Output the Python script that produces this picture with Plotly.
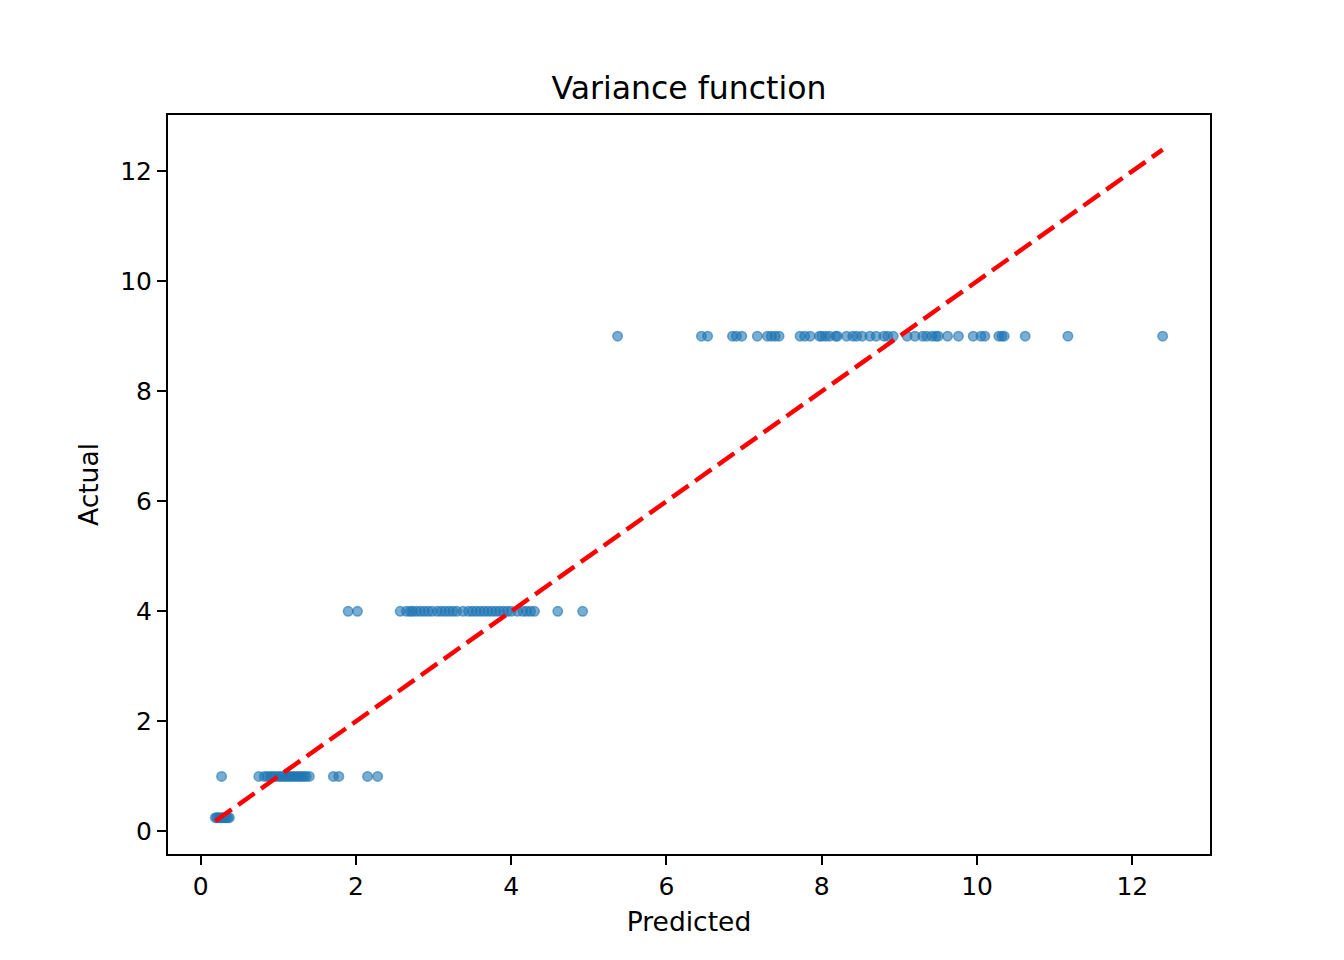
import plotly.graph_objects as go

pred_025 = [0.19, 0.21, 0.23, 0.25, 0.27, 0.29, 0.31, 0.33, 0.35, 0.37]
pred_1 = [0.27, 0.75, 0.82, 0.86, 0.9, 0.93, 0.96, 1.0, 1.03, 1.06, 1.09, 1.12, 1.15,
          1.18, 1.21, 1.24, 1.27, 1.3, 1.33, 1.36, 1.4, 1.71, 1.78, 2.15, 2.28]
pred_4 = [1.9, 2.02, 2.57, 2.65, 2.7, 2.73, 2.78, 2.83, 2.88, 2.93, 2.98, 3.05, 3.1,
          3.15, 3.2, 3.25, 3.3, 3.38, 3.45, 3.5, 3.55, 3.6, 3.65, 3.7, 3.75, 3.8, 3.85,
          3.9, 3.95, 4.0, 4.08, 4.15, 4.2, 4.25, 4.3, 4.6, 4.92]
pred_9 = [5.37, 6.45, 6.53, 6.85, 6.9, 6.97, 7.17, 7.3, 7.35, 7.4, 7.45, 7.72, 7.78,
          7.85, 7.97, 8.0, 8.05, 8.1, 8.18, 8.2, 8.32, 8.4, 8.45, 8.52, 8.62, 8.7, 8.8,
          8.85, 8.92, 9.1, 9.2, 9.3, 9.35, 9.42, 9.47, 9.5, 9.62, 9.76, 9.95, 10.05,
          10.1, 10.28, 10.32, 10.35, 10.62, 11.17, 12.39]
actual_levels = [0.25, 1, 4, 9]

predicted = pred_025 + pred_1 + pred_4 + pred_9
actual = ([actual_levels[0]] * len(pred_025) + [actual_levels[1]] * len(pred_1)
          + [actual_levels[2]] * len(pred_4) + [actual_levels[3]] * len(pred_9))

lo, hi = min(predicted), max(predicted)

ticks = [0, 2, 4, 6, 8, 10, 12]
FONT = "DejaVu Sans"

fig = go.Figure()
fig.add_trace(go.Scatter(
    x=predicted, y=actual, mode="markers",
    marker=dict(size=9.5, color="rgba(31,119,180,0.6)",
                line=dict(width=1.5, color="rgba(31,119,180,0.6)")),
    showlegend=False, hoverinfo="x+y"))
fig.add_trace(go.Scatter(
    x=[lo, hi], y=[lo, hi], mode="lines",
    line=dict(color="red", width=4.5, dash="20px,8px"),
    showlegend=False))

axis_common = dict(
    showgrid=False, zeroline=False, showline=True, linecolor="black", linewidth=2,
    mirror=True, ticks="outside", ticklen=9, tickwidth=2, tickcolor="black",
    tickfont=dict(family=FONT, size=25, color="black"),
    tickvals=ticks, ticktext=[str(t) for t in ticks],
)

fig.update_layout(
    width=1344, height=960,
    paper_bgcolor="white", plot_bgcolor="white",
    margin=dict(l=160, r=142, t=107, b=114),
    title=dict(text="Variance function", xref="paper", x=0.5, xanchor="center",
               y=1 - 80 / 960, yanchor="middle",
               font=dict(family=FONT, size=31.5, color="black")),
    xaxis=dict(range=[-0.42, 13.0],
               title=dict(text="Predicted", font=dict(family=FONT, size=26.5, color="black"), standoff=12),
               **axis_common),
    yaxis=dict(range=[-0.41, 13.02],
               title=dict(text="Actual", font=dict(family=FONT, size=26.5, color="black"), standoff=14),
               **axis_common),
)

fig.write_html("out.html")
